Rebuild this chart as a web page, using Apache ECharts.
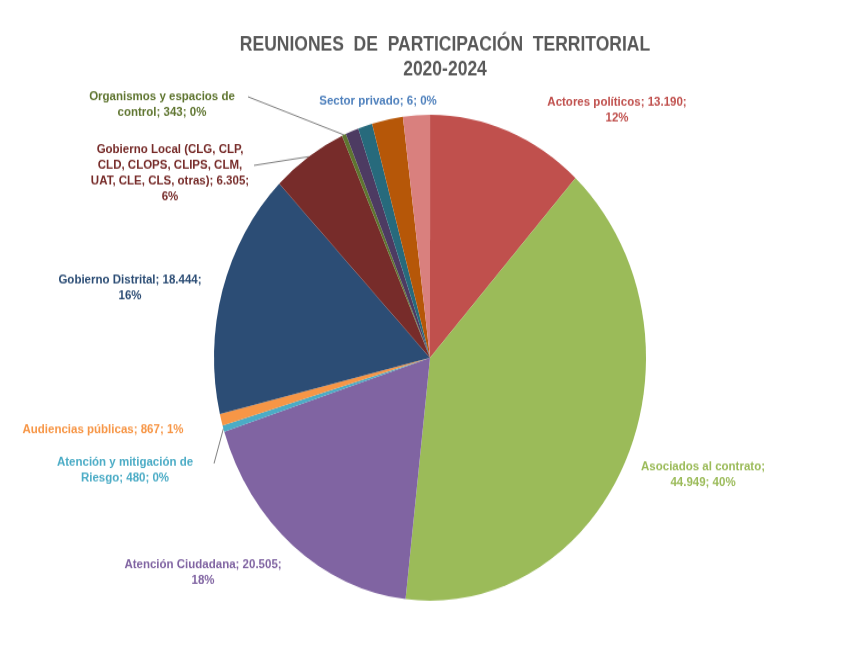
<!DOCTYPE html>
<html>
<head>
<meta charset="utf-8">
<script src="https://cdn.jsdelivr.net/npm/echarts@6/dist/echarts.min.js"></script>
<style>
html,body{margin:0;padding:0;background:#fff;width:843px;height:645px;}
#wrap{position:absolute;left:0;top:0;width:843px;height:645px;}
#chart{position:absolute;left:0;top:0;width:843px;height:573.33px;transform:scaleY(1.125);transform-origin:0 0;}
</style>
</head>
<body>
<div id="wrap"><div id="chart"></div></div>
<script>
// Data (clockwise from 12 o'clock)
const categories = [
  'Sector privado',
  'Actores políticos',
  'Asociados al contrato',
  'Atención Ciudadana',
  'Atención y mitigación de Riesgo',
  'Audiencias públicas',
  'Gobierno Distrital',
  'Gobierno Local (CLG, CLP, CLD, CLOPS, CLIPS, CLM, UAT, CLE, CLS, otras)',
  'Organismos y espacios de control',
  'Otro 1',
  'Otro 2',
  'Otro 3',
  'Otro 4'
];
const values = [6, 13190, 44949, 20505, 480, 867, 18444, 6305, 343, 1100, 1200, 2600, 2250];
const colors = ['#4F81BD','#C0504D','#9BBB59','#8064A2','#4BACC6','#F79646','#2C4D75','#772C2A','#5F7530','#4D3B62','#276A7C','#B65708','#D9807E'];
const labelColors = ['#4F81BD','#C0504D','#9BBB59','#8064A2','#4BACC6','#F79646','#2C4D75','#772C2A','#5F7530'];
const labelFormats = [
  'Sector privado; {v}; {p}',
  'Actores políticos; {v};\n{p}',
  'Asociados al contrato;\n{v}; {p}',
  'Atención Ciudadana; {v};\n{p}',
  'Atención y mitigación de\nRiesgo; {v}; {p}',
  'Audiencias públicas; {v}; {p}',
  'Gobierno Distrital; {v};\n{p}',
  'Gobierno Local (CLG, CLP,\nCLD, CLOPS, CLIPS, CLM,\nUAT, CLE, CLS, otras); {v};\n{p}',
  'Organismos y espacios de\ncontrol; {v}; {p}'
];
// label anchor positions (chart coordinates, before vertical stretch)
const labelPos = [[378,90],[617,98],[703,422],[203,509],[125,418],[103,382],[130,256],[170,154],[162,93]];
const lineEnds = {4:[214,412],7:[254,147],8:[248,86]};

const fmtNum = v => String(v).replace(/\B(?=(\d{3})+(?!\d))/g, '.');

const data = values.map((v, i) => {
  const item = { name: categories[i], value: v, itemStyle: { color: colors[i] } };
  if (i < labelFormats.length) {
    item.label = { show: true, color: labelColors[i] };
    item.labelLine = { show: lineEnds[i] !== undefined, lineStyle: { color: '#7f7f7f', width: 1 } };
  } else {
    item.label = { show: false };
    item.labelLine = { show: false };
  }
  return item;
});

const chart = echarts.init(document.getElementById('chart'), null, { renderer: 'canvas', width: 843, height: 573.33 });
chart.setOption({
  backgroundColor: '#fff',
  animation: false,
  title: {
    text: 'REUNIONES  DE  PARTICIPACIÓN  TERRITORIAL\n2020-2024',
    left: 440,
    textAlign: 'center',
    top: 24,
    textStyle: { fontFamily: 'Liberation Sans, Arial', fontSize: 17.5, fontWeight: 'bold', color: '#595959', lineHeight: 22 }
  },
  series: [{
    type: 'pie',
    center: [430, 318],
    radius: 216,
    startAngle: 90,
    clockwise: true,
    avoidLabelOverlap: false,
    itemStyle: { borderWidth: 0 },
    label: {
      position: 'outside',
      fontFamily: 'Liberation Sans, Arial',
      fontSize: 11.5,
      fontWeight: 'bold',
      lineHeight: 14,
      align: 'center',
      formatter: p => {
        const f = labelFormats[p.dataIndex];
        if (!f) return '';
        return f.replace('{v}', fmtNum(p.value)).replace('{p}', Math.round(p.percent) + '%');
      }
    },
    labelLine: { length: 10, length2: 10 },
    labelLayout: function (params) {
      const pos = labelPos[params.dataIndex];
      if (!pos) return {};
      const res = { x: pos[0], y: pos[1], align: 'center', verticalAlign: 'middle' };
      const end = lineEnds[params.dataIndex];
      if (end && params.labelLinePoints) {
        res.labelLinePoints = [params.labelLinePoints[0], end];
      }
      return res;
    },
    data: data
  }]
});
</script>
</body>
</html>
